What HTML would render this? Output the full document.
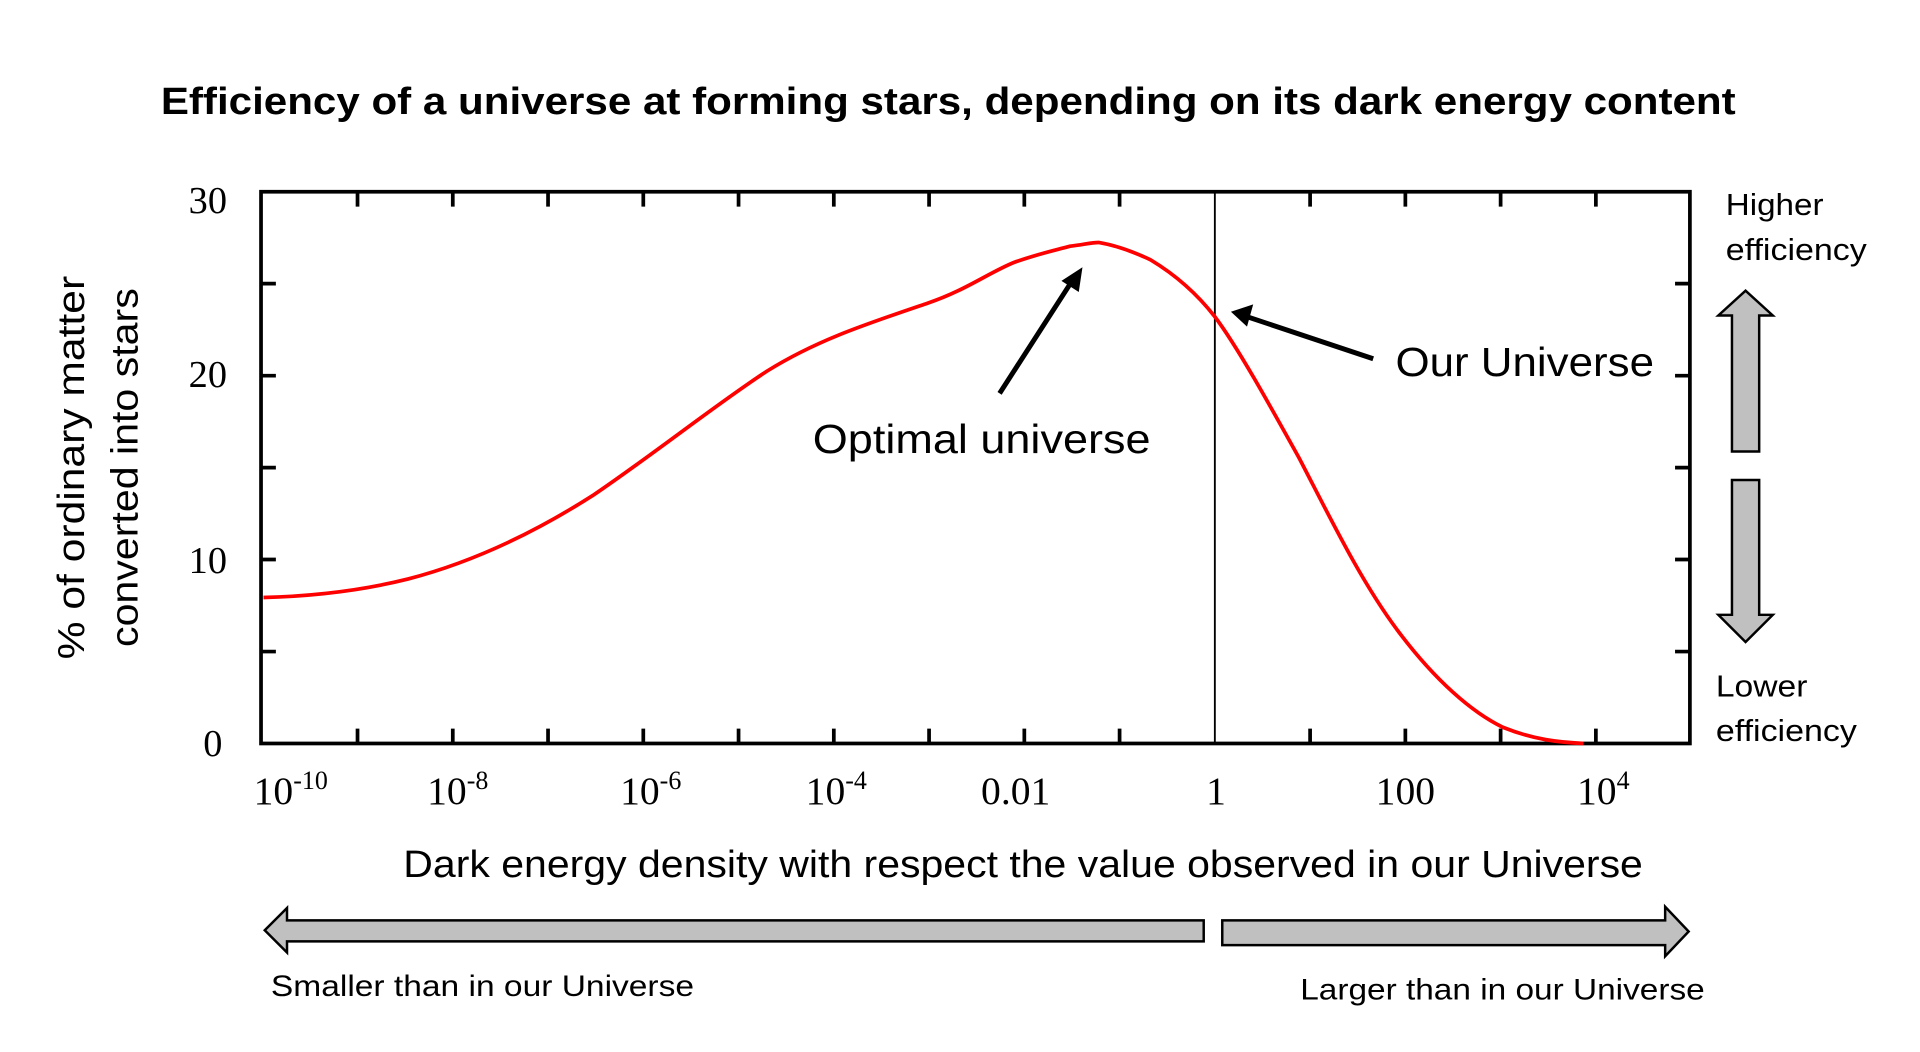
<!DOCTYPE html>
<html><head><meta charset="utf-8"><style>html,body{margin:0;padding:0;background:#fff;width:1920px;height:1052px;overflow:hidden}svg{display:block}</style></head>
<body>
<svg width="1920" height="1052" viewBox="0 0 1552 850.4" preserveAspectRatio="none" xmlns="http://www.w3.org/2000/svg">
<rect width="1552" height="851" fill="#fff"/>
<text x="130" y="92" font-family="Liberation Sans, sans-serif" font-weight="bold" font-size="31" textLength="1273" lengthAdjust="spacingAndGlyphs">Efficiency of a universe at forming stars, depending on its dark energy content</text>
<g stroke="#000" stroke-width="3" fill="none">
<rect x="211" y="155" width="1155" height="446"/>
<path d="M289,155v12M366,155v12M443,155v12M520,155v12M597,155v12M674,155v12M751,155v12M828,155v12M905,155v12M1059,155v12M1136,155v12M1213,155v12M1290,155v12
M289,601v-12M366,601v-12M443,601v-12M520,601v-12M597,601v-12M674,601v-12M751,601v-12M828,601v-12M905,601v-12M1059,601v-12M1136,601v-12M1213,601v-12M1290,601v-12
M211,526.7h12M211,452.3h12M211,378h12M211,303.7h12M211,229.3h12
M1366,526.7h-12M1366,452.3h-12M1366,378h-12M1366,303.7h-12M1366,229.3h-12"/>
</g>
<line x1="982" y1="155" x2="982" y2="601" stroke="#000" stroke-width="1.5"/>
<path d="M213,483 C250,482 290,478 330,468 C380,455 430,432 480,400 C530,366 580,326 620,300 C660,275 700,262 750,245 C780,235 800,220 820,212 C840,205 850,203 865,199 C875,198 882,196 888,196 C900,198 915,203 930,210 C950,222 968,238 982,256 C1000,280 1025,325 1050,370 C1075,418 1100,470 1130,510 C1160,550 1190,576 1215,588 C1240,598 1260,600 1280,601" fill="none" stroke="#f00" stroke-width="3"/>
<g font-family="Liberation Serif, serif" font-size="31" text-anchor="middle">
<text x="168" y="172">30</text><text x="168" y="313">20</text><text x="168" y="463">10</text><text x="172" y="611">0</text>
</g>
<g font-family="Liberation Serif, serif" font-size="32" text-anchor="middle">
<text x="235" y="650">10<tspan dy="-12" font-size="21">-10</tspan></text>
<text x="370" y="650">10<tspan dy="-12" font-size="21">-8</tspan></text>
<text x="526" y="650">10<tspan dy="-12" font-size="21">-6</tspan></text>
<text x="676" y="650">10<tspan dy="-12" font-size="21">-4</tspan></text>
<text x="821" y="650">0.01</text>
<text x="983" y="650">1</text>
<text x="1136" y="650">100</text>
<text x="1296" y="650">10<tspan dy="-12" font-size="21">4</tspan></text>
</g>
<g font-family="Liberation Sans, sans-serif" font-size="31" text-anchor="middle">
<text transform="translate(68,378) rotate(-90)" textLength="310" lengthAdjust="spacingAndGlyphs">% of ordinary  matter</text>
<text transform="translate(111,378) rotate(-90)" textLength="290" lengthAdjust="spacingAndGlyphs">converted into stars</text>
</g>
<g font-family="Liberation Sans, sans-serif">
<text x="657" y="366" font-size="33" textLength="273" lengthAdjust="spacingAndGlyphs">Optimal universe</text>
<text x="1128" y="304" font-size="33" textLength="209" lengthAdjust="spacingAndGlyphs">Our Universe</text>
<text x="326" y="709" font-size="31" textLength="1002" lengthAdjust="spacingAndGlyphs">Dark energy density with respect the value observed in our Universe</text>
<text x="1395" y="174" font-size="25" textLength="79" lengthAdjust="spacingAndGlyphs">Higher</text>
<text x="1395" y="210" font-size="25" textLength="114" lengthAdjust="spacingAndGlyphs">efficiency</text>
<text x="1387" y="563" font-size="25" textLength="74" lengthAdjust="spacingAndGlyphs">Lower</text>
<text x="1387" y="599" font-size="25" textLength="114" lengthAdjust="spacingAndGlyphs">efficiency</text>
<text x="219" y="805" font-size="24" textLength="342" lengthAdjust="spacingAndGlyphs">Smaller than in our Universe</text>
<text x="1051" y="808" font-size="24" textLength="327" lengthAdjust="spacingAndGlyphs">Larger than in our Universe</text>
</g>
<g stroke="#000" stroke-width="4">
<line x1="808" y1="318" x2="866" y2="228"/>
<line x1="1110" y1="290" x2="1008" y2="256"/>
</g>
<polygon points="875,216 872,236 858,227" fill="#000"/>
<polygon points="995,252 1013,246 1008,264" fill="#000"/>
<g fill="#c0c0c0" stroke="#000" stroke-width="2">
<polygon points="1400,365 1400,255 1389,255 1411,235 1433,255 1422,255 1422,365"/>
<polygon points="1400,388 1400,497 1389,497 1411,519 1433,497 1422,497 1422,388"/>
<polygon points="973,744 973,761 232,761 232,770 214,752 232,734 232,744"/>
<polygon points="988,744 988,764 1346,764 1346,773 1365,753 1346,733 1346,744"/>
</g>
</svg>
</body></html>
